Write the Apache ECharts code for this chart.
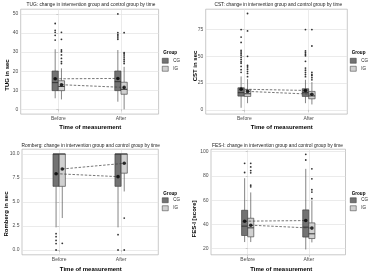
<!DOCTYPE html>
<html>
<head>
<meta charset="UTF-8">
<title>Change in intervention group and control group by time</title>
<script src="https://cdn.jsdelivr.net/npm/echarts@6/dist/echarts.min.js"></script>
<style>
  html, body { margin: 0; padding: 0; background: #fff; }
  #chart { width: 370px; height: 277px; }
</style>
</head>
<body>
<div id="chart"></div>
<script>
// categories
const groups = ['CG', 'IG'];
const timeLabels = ['Before', 'After'];

// TUG: [min whisker, Q1, median, Q3, max whisker] for Before, After
const tugCG = [[5.8, 9.8, 14, 20.1, 31.5], [4.0, 9.8, 14.5, 20.1, 31.1]];
const tugIG = [[5.2, 9.8, 12, 15.0, 21.5], [0, 7.9, 10.5, 14.2, 22.3]];
const tugMeanCG = [16.0, 16.2];
const tugMeanIG = [12.9, 11.5];
const tugOutCG = [[45, 41.4, 40.4, 38.8, 36.3], [50, 40.2, 39.1, 38.4, 37.5, 36.7]];
const tugOutIG = [[40.4, 36.7, 31.1, 30.2, 28.5, 26.7, 25, 24], [40.2, 29.7, 29, 28, 27, 26, 25, 24]];
const tugTicks = [0, 10, 20, 30, 40, 50];

// CST
const cstCG = [[1.9, 12.8, 16, 20.6, 31.2], [6.2, 12.5, 16, 19.7, 28.1]];
const cstIG = [[6.2, 12.5, 15, 18.7, 28.7], [5, 10.3, 13, 17.2, 25.9]];
const cstMeanCG = [19.3, 18.1];
const cstMeanIG = [17.2, 14.6];
const cstOutCG = [[75, 68, 63, 55.6, 54, 52.5, 51, 49, 47, 45, 43.5, 40.5, 37.5, 35],
                  [75, 55, 53.5, 52, 50.5, 45.3, 39, 37, 35, 33, 31]];
const cstOutIG = [[90, 73.7, 50, 41.5, 40, 38, 36, 34, 31], [75, 59.6, 35, 33, 32, 30, 28]];
const cstTicks = [0, 25, 50, 75];

// Romberg
const romCG = [[2.36, 6.63, 10, 10, 10], [2.36, 6.63, 10, 10, 10]];
const romIG = [[3.33, 6.63, 10, 10, 10], [6.1, 8.0, 10, 10, 10]];
const romMeanCG = [7.95, 7.64];
const romMeanIG = [8.44, 9.03];
const romOutCG = [[1.7, 1.39, 1.0, 0.67, 0], [1.6, 0]];
const romOutIG = [[0.7], [3.33, 0]];
const romTicks = [0, 2.5, 5, 7.5, 10];

// FES-I
const fesCG = [[25.5, 30.9, 38.6, 51.7, 78.1], [19.4, 29.6, 37.8, 52, 85.8]];
const fesIG = [[25.5, 29.8, 37.2, 45.1, 66.4], [25.2, 28.4, 32.3, 41.3, 59.6]];
const fesMeanCG = [42.7, 43.2];
const fesMeanIG = [39.4, 37];
const fesOutCG = [[90.4, 82.8], [97.8, 93.1]];
const fesOutIG = [[90.4, 87.4, 84.4, 82.5, 72.4, 71], [85.8, 77.6, 68.6, 66.7, 61.2]];
const fesTicks = [20, 40, 60, 80, 100];

const font = '"Liberation Sans", Arial, sans-serif';
const fills = { CG: '#737373', IG: '#d0d0d0' };
const dodge = 0.05;   // half of dodge width, in x units
const boxW = 0.1;

const panels = [
  { title: 'TUG: change in intervention group and control group by time', yName: 'TUG in sec',
    box: [tugCG, tugIG], mean: [tugMeanCG, tugMeanIG], out: [tugOutCG, tugOutIG], ticks: tugTicks,
    grid: { left: 20.7, top: 9.2, width: 137.9, height: 104.9 }, yMin: -2.5, yMax: 52.5,
    titlePos: [91, 5], yNamePos: [7, 75], xNamePos: [90.3, 127.7], legendPos: [162, 58], groupPos: [163.3, 52.7] },
  { title: 'CST: change in intervention group and control group by time', yName: 'CST in sec',
    box: [cstCG, cstIG], mean: [cstMeanCG, cstMeanIG], out: [cstOutCG, cstOutIG], ticks: cstTicks,
    grid: { left: 205.7, top: 9.2, width: 141.6, height: 104.9 }, yMin: -4, yMax: 94,
    titlePos: [278.3, 5], yNamePos: [195, 66], xNamePos: [281.7, 127.7], legendPos: [350, 58], groupPos: [351.7, 52.7] },
  { title: 'Romberg: change in intervention group and control group by time', yName: 'Romberg in sec',
    box: [romCG, romIG], mean: [romMeanCG, romMeanIG], out: [romOutCG, romOutIG], ticks: romTicks, dec: 1,
    grid: { left: 22, top: 149.2, width: 136.3, height: 105.6 }, yMin: -0.5, yMax: 10.5,
    titlePos: [90.8, 145.3], yNamePos: [6, 214], xNamePos: [90.8, 269], legendPos: [162, 197.5], groupPos: [163.3, 193.7] },
  { title: 'FES-I: change in intervention group and control group by time', yName: 'FES-I [score]',
    box: [fesCG, fesIG], mean: [fesMeanCG, fesMeanIG], out: [fesOutCG, fesOutIG], ticks: fesTicks,
    grid: { left: 211, top: 149.2, width: 134.5, height: 105.6 }, yMin: 15, yMax: 102,
    titlePos: [277.5, 145.3], yNamePos: [194.5, 219], xNamePos: [281.2, 269], legendPos: [350, 197.5], groupPos: [351.7, 194] }
];

function renderBox(params, api) {
  const x = api.value(0);
  const g = api.value(6);
  const pMin = api.coord([x, api.value(1)]);
  const pQ1 = api.coord([x, api.value(2)]);
  const pMed = api.coord([x, api.value(3)]);
  const pQ3 = api.coord([x, api.value(4)]);
  const pMax = api.coord([x, api.value(5)]);
  const xl = api.coord([x - boxW / 2, 0])[0];
  const xr = api.coord([x + boxW / 2, 0])[0];
  const line = { stroke: '#333', lineWidth: 0.6 };
  return {
    type: 'group',
    children: [
      { type: 'line', shape: { x1: pMax[0], y1: pMax[1], x2: pQ3[0], y2: pQ3[1] }, style: line },
      { type: 'line', shape: { x1: pQ1[0], y1: pQ1[1], x2: pMin[0], y2: pMin[1] }, style: line },
      { type: 'rect', shape: { x: xl, y: pQ3[1], width: xr - xl, height: pQ1[1] - pQ3[1] },
        style: { fill: fills[groups[g]], stroke: '#333', lineWidth: 0.6 } },
      { type: 'line', shape: { x1: xl, y1: pMed[1], x2: xr, y2: pMed[1] }, style: { stroke: '#333', lineWidth: 1 } }
    ]
  };
}

const grid = [], xAxis = [], yAxis = [], series = [], legend = [], graphic = [];

panels.forEach(function (p, i) {
  grid.push(Object.assign({ show: true, borderColor: '#b3b3b3', borderWidth: 0.7, backgroundColor: '#fff',
    outerBoundsMode: 'none', containLabel: false }, p.grid));

  xAxis.push({
    gridIndex: i, type: 'value', min: -0.6, max: 1.6,
    axisLine: { show: false },
    axisTick: { show: true, customValues: [0, 1], length: 2, lineStyle: { color: '#b3b3b3', width: 0.6 } },
    axisLabel: { customValues: [0, 1], formatter: v => timeLabels[Math.round(v)],
      fontSize: 5, color: '#4d4d4d', margin: 2.5, fontFamily: font },
    splitLine: { show: true, lineStyle: { color: '#e3e3e3', width: 0.7 } }
  });

  yAxis.push({
    gridIndex: i, type: 'value', min: p.yMin, max: p.yMax,
    axisLine: { show: false },
    axisTick: { show: true, customValues: p.ticks, length: 2, lineStyle: { color: '#b3b3b3', width: 0.6 } },
    axisLabel: { customValues: p.ticks, formatter: v => p.dec ? v.toFixed(p.dec) : String(v),
      fontSize: 5, color: '#4d4d4d', margin: 2.5, fontFamily: font },
    splitLine: { show: true, lineStyle: { color: '#e3e3e3', width: 0.7 } }
  });

  groups.forEach(function (g, gi) {
    const off = gi === 0 ? -dodge : dodge;
    series.push({
      type: 'custom', name: g, xAxisIndex: i, yAxisIndex: i,
      itemStyle: { color: fills[g] },
      renderItem: renderBox,
      encode: { x: 0, y: [1, 2, 3, 4, 5] },
      data: p.box[gi].map((b, t) => [t + off].concat(b, [gi])),
      z: 3
    });
    const outs = [];
    p.out[gi].forEach((list, t) => list.forEach(v => outs.push([t + off, v])));
    series.push({
      type: 'scatter', xAxisIndex: i, yAxisIndex: i, symbolSize: 1.8,
      itemStyle: { color: '#000' }, data: outs, z: 4, silent: true
    });
    series.push({
      type: 'line', xAxisIndex: i, yAxisIndex: i, symbol: 'none',
      lineStyle: { color: '#3c3c3c', width: 0.7, type: [2.5, 1.6] },
      data: p.mean[gi].map((v, t) => [t + off, v]), z: 5, silent: true
    });
    series.push({
      type: 'scatter', xAxisIndex: i, yAxisIndex: i, symbolSize: 3.6,
      itemStyle: { color: '#000' },
      data: p.mean[gi].map((v, t) => [t + off, v]), z: 6, silent: true
    });
  });

  legend.push({
    left: p.legendPos[0], top: p.legendPos[1], orient: 'vertical', icon: 'rect',
    itemWidth: 6, itemHeight: 5, itemGap: 2.5, padding: 0,
    textStyle: { fontSize: 4.5, color: '#222', fontFamily: font },
    data: groups.map(g => ({ name: g, itemStyle: { color: fills[g], borderColor: '#333', borderWidth: 0.5 } }))
  });

  graphic.push(
    { type: 'text', x: p.titlePos[0], y: p.titlePos[1],
      style: { text: p.title, fontSize: 4.8, fontFamily: font, fill: '#1a1a1a', align: 'center', verticalAlign: 'middle' } },
    { type: 'text', x: p.yNamePos[0], y: p.yNamePos[1], rotation: Math.PI / 2,
      style: { text: p.yName, fontSize: 6, fontWeight: 'bold', fontFamily: font, fill: '#000', align: 'center', verticalAlign: 'middle' } },
    { type: 'text', x: p.xNamePos[0], y: p.xNamePos[1],
      style: { text: 'Time of measurement', fontSize: 6, fontWeight: 'bold', fontFamily: font, fill: '#000', align: 'center', verticalAlign: 'middle' } },
    { type: 'text', x: p.groupPos[0], y: p.groupPos[1],
      style: { text: 'Group', fontSize: 4.6, fontWeight: 'bold', fontFamily: font, fill: '#000', align: 'left', verticalAlign: 'middle' } }
  );
});

const chart = echarts.init(document.getElementById('chart'), null, { renderer: 'canvas' });
chart.setOption({
  animation: false,
  backgroundColor: '#fff',
  grid: grid, xAxis: xAxis, yAxis: yAxis, series: series, legend: legend, graphic: graphic
});
window.addEventListener('resize', function () { chart.resize(); });
</script>
</body>
</html>
